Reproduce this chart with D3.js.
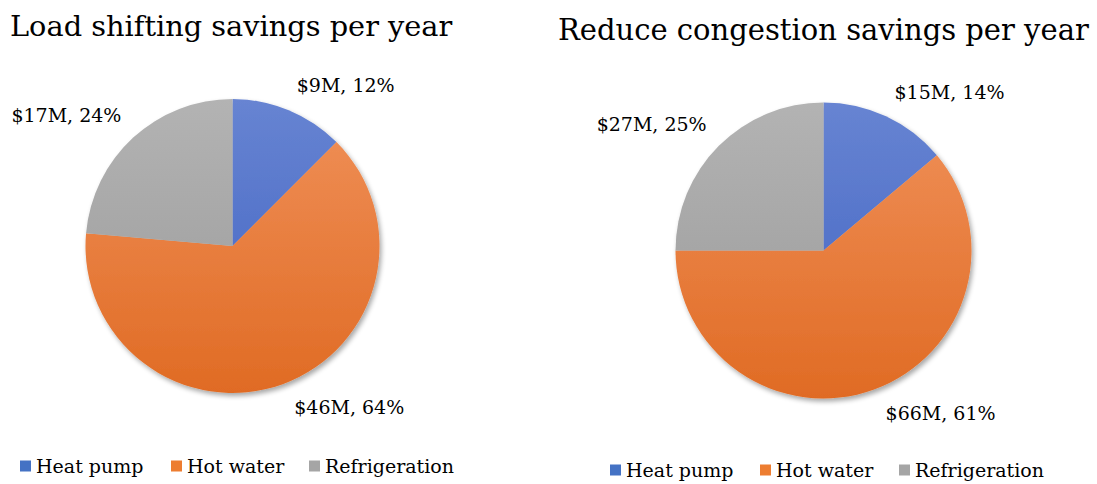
<!DOCTYPE html>
<html><head><meta charset="utf-8">
<script src="https://cdn.jsdelivr.net/npm/d3@7"></script>
<style>
html,body{margin:0;padding:0;background:#fff;}
svg{display:block;}
text{font-family:"DejaVu Serif","Liberation Serif",serif;fill:#000;}
</style></head>
<body>
<svg id="chart" width="1097" height="484"></svg>
<script>
const categories = ["Heat pump", "Hot water", "Refrigeration"];
const loadShiftValues = [9, 46, 17];
const loadShiftLabels = ["$9M, 12%", "$46M, 64%", "$17M, 24%"];
const congestionValues = [15, 66, 27];
const congestionLabels = ["$15M, 14%", "$66M, 61%", "$27M, 25%"];
const titles = ["Load shifting savings per year", "Reduce congestion savings per year"];

const colors = [
  {top:"#6784d2", bottom:"#3f61c1"},
  {top:"#f0915a", bottom:"#e06b24"},
  {top:"#b3b3b3", bottom:"#999999"}
];
const legendColors = ["#4472c4", "#ed7d31", "#a5a5a5"];

const svg = d3.select("#chart");
const defs = svg.append("defs");
const shadow = defs.append("filter").attr("id","shadow").attr("x","-20%").attr("y","-20%").attr("width","140%").attr("height","140%");
shadow.append("feGaussianBlur").attr("in","SourceAlpha").attr("stdDeviation",2.5);
shadow.append("feOffset").attr("dx",2).attr("dy",3).attr("result","ob");
shadow.append("feComponentTransfer").append("feFuncA").attr("type","linear").attr("slope",0.35);
const fm = shadow.append("feMerge");
fm.append("feMergeNode");
fm.append("feMergeNode").attr("in","SourceGraphic");

const panels = [
  {title:titles[0], values:loadShiftValues, labels:loadShiftLabels, cx:232.5, cy:246, r:147, titleX:10, titleY:36, titleSize:28.8, legendY:466, legendX:[20,171,309]},
  {title:titles[1], values:congestionValues, labels:congestionLabels, cx:823.5, cy:250.5, r:148, titleX:558, titleY:40, titleSize:29, legendY:470, legendX:[610,760,899]}
];

const pie = d3.pie().sort(null).value(d => d);

panels.forEach((p, pi) => {
  const g = svg.append("g");
  g.append("text").attr("x", p.titleX).attr("y", p.titleY)
    .style("font-size", p.titleSize + "px").text(p.title);

  colors.forEach((c, ci) => {
    const lg = defs.append("linearGradient").attr("id", `grad${pi}_${ci}`)
      .attr("gradientUnits","userSpaceOnUse")
      .attr("x1", 0).attr("x2", 0).attr("y1", -p.r).attr("y2", p.r);
    lg.append("stop").attr("offset","0%").attr("stop-color", c.top);
    lg.append("stop").attr("offset","100%").attr("stop-color", c.bottom);
  });

  const arc = d3.arc().innerRadius(0).outerRadius(p.r);
  const arcs = pie(p.values);
  const pg = g.append("g").attr("transform", `translate(${p.cx},${p.cy})`).attr("filter","url(#shadow)");
  pg.selectAll("path").data(arcs).join("path")
    .attr("d", arc)
    .attr("fill", (d,i) => `url(#grad${pi}_${i})`);

  const lg = g.append("g").attr("transform", `translate(${p.cx},${p.cy})`);
  arcs.forEach((d, i) => {
    const mid = (d.startAngle + d.endAngle) / 2;
    const rr = p.r + 13;
    const x = rr * Math.sin(mid), y = -rr * Math.cos(mid);
    const right = Math.sin(mid) >= 0;
    const upper = Math.cos(mid) >= 0;
    lg.append("text")
      .attr("x", x + (right ? (upper ? 3 : 7) : -3))
      .attr("y", upper ? y - 6 : y + 18)
      .attr("text-anchor", right ? "start" : "end")
      .style("font-size","19px")
      .text(p.labels[i]);
  });

  const leg = g.append("g");
  categories.forEach((cat, i) => {
    const x = p.legendX[i];
    leg.append("rect").attr("x", x).attr("y", p.legendY - 5.5).attr("width", 11).attr("height", 11)
      .attr("fill", legendColors[i]);
    leg.append("text").attr("x", x + 16).attr("y", p.legendY + 7)
      .style("font-size","19px").text(cat);
  });
});
</script>
</body></html>
